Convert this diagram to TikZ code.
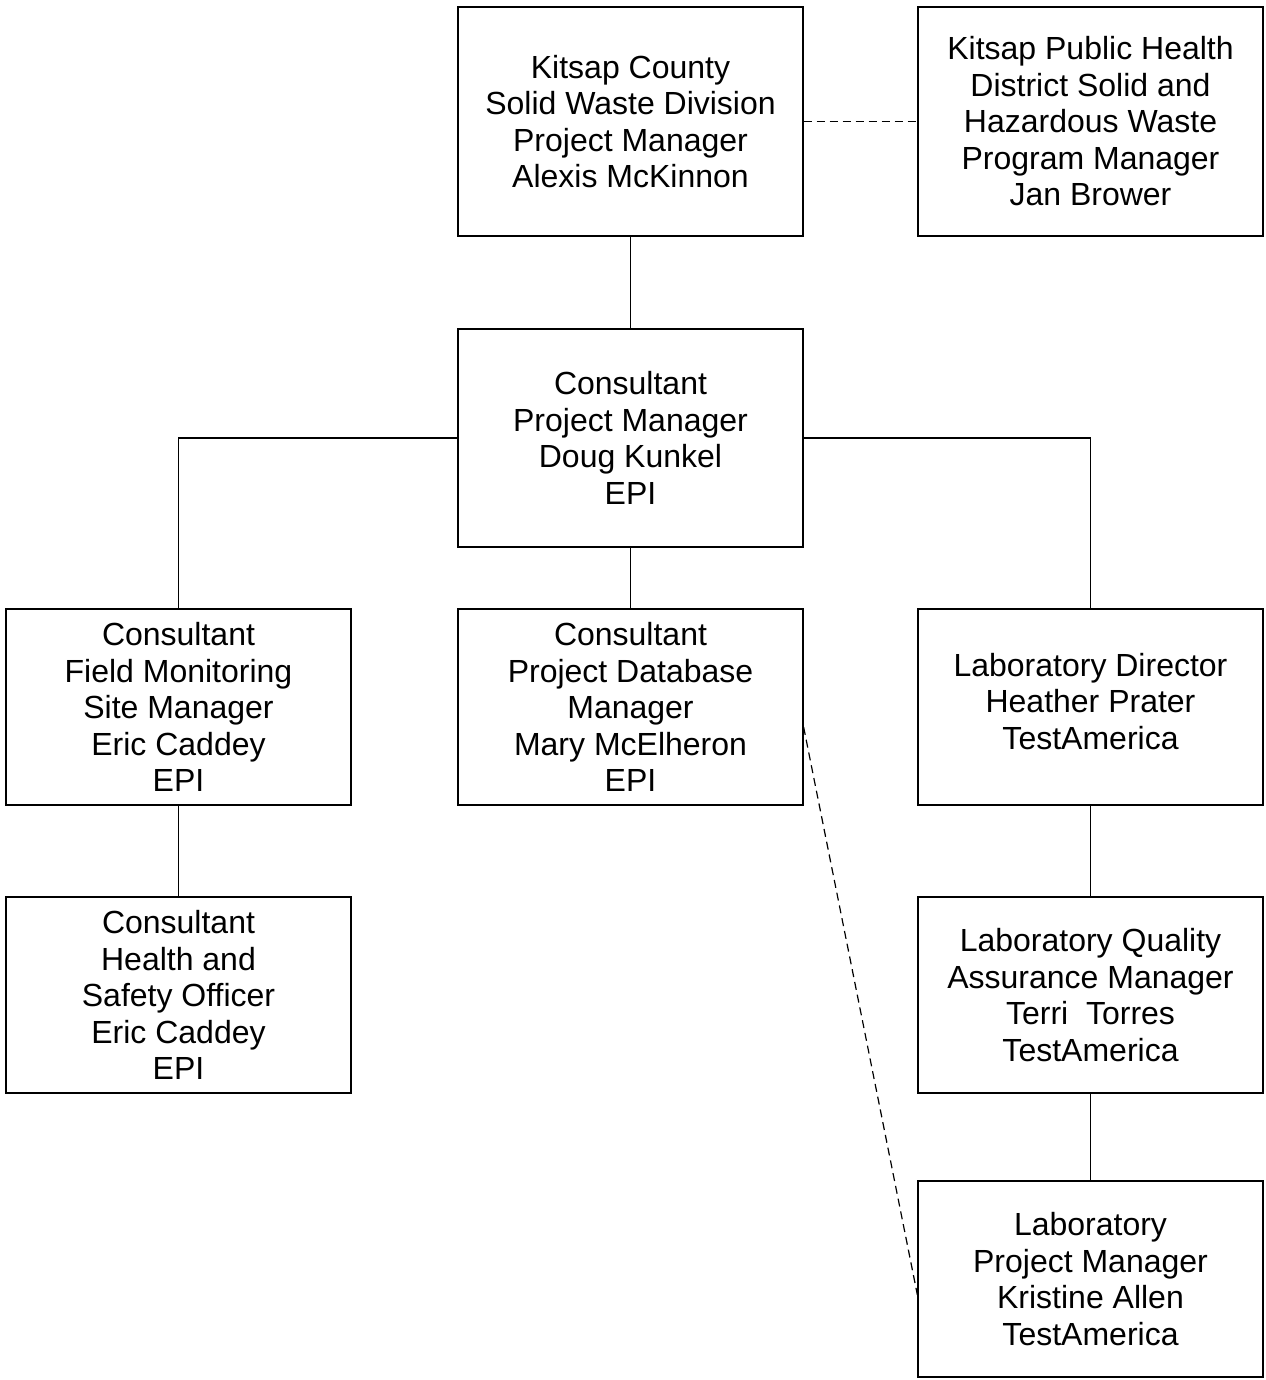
\documentclass[tikz,border=0pt]{standalone}
\usepackage{fontspec}
\setmainfont{Liberation Sans}
\usepackage{tikz}
\tikzstyle{block} = [rectangle, draw, line width=0.6pt, fill=white,
                 minimum width=172.5pt, minimum height=98pt, inner sep=0pt,
                 align=center, font=\fontsize{16}{18.25}\selectfont]
\tikzstyle{branch} = [line width=0.6pt, draw]
\tikzstyle{liaison} = [line width=0.6pt, draw, dash pattern=on 4pt off 2.5pt]

\begin{document}
\begin{tikzpicture}[x=0.5pt, y=-0.5pt]

\useasboundingbox (0,0) rectangle (1265,1380);

% top row
\node [block, minimum height=114.5pt] at (630.5,121.5) (county) {Kitsap County\\Solid Waste Division\\Project Manager\\Alexis McKinnon};
\node [block, minimum height=114.5pt] at (1090.5,121.5) (health) {Kitsap Public Health\\District Solid and\\Hazardous Waste\\Program Manager\\Jan Brower};

% consultant PM
\node [block, minimum height=109pt] at (630.5,438) (cpm) {Consultant\\Project Manager\\Doug Kunkel\\EPI};

% third row
\node [block] at (178.5,707) (field) {Consultant\\Field Monitoring\\Site Manager\\Eric Caddey\\EPI};
\node [block] at (630.5,707) (db) {Consultant\\Project Database\\Manager\\Mary McElheron\\EPI};
\node [block] at (1090.5,707) (labdir) {Laboratory Director\\Heather Prater\\TestAmerica\\[-12.25pt]};

% lower rows
\node [block] at (178.5,995) (safety) {Consultant\\Health and\\Safety Officer\\Eric Caddey\\EPI};
\node [block] at (1090.5,995) (qa) {Laboratory Quality\\Assurance Manager\\Terri\ \ Torres\\TestAmerica};
\node [block] at (1090.5,1279) (labpm) {Laboratory\\Project Manager\\Kristine Allen\\TestAmerica};

\path [liaison] (county.east) -- (health.west);
\path [branch] (county.south) -- (cpm.north);
\path [branch] (cpm.west) -| (field.north);
\path [branch] (cpm.east) -| (labdir.north);
\path [branch] (cpm.south) -- (db.north);
\path [branch] (field.south) -- (safety.north);
\path [branch] (labdir.south) -- (qa.north);
\path [branch] (qa.south) -- (labpm.north);
\path [liaison] ([yshift=-10pt]db.east) -- ([yshift=-8pt]labpm.west);

\end{tikzpicture}
\end{document}
